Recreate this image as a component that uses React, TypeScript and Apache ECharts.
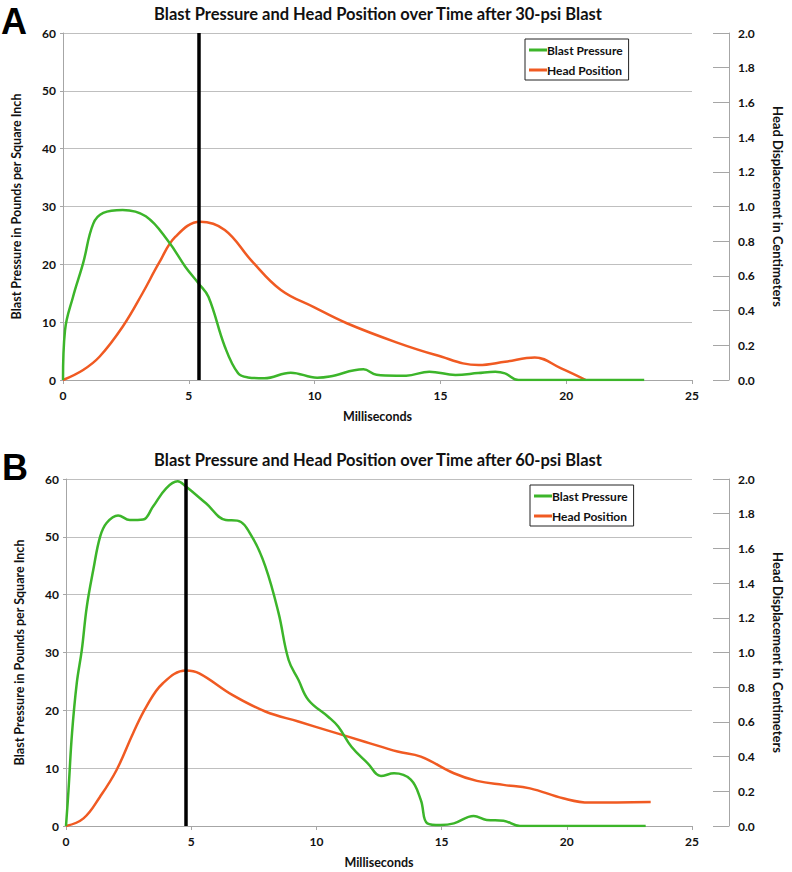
import React, { useEffect, useRef } from "react";
import * as echarts from "echarts";

// ---- Data ----
const titleA = "Blast Pressure and Head Position over Time after 30-psi Blast";
const titleB = "Blast Pressure and Head Position over Time after 60-psi Blast";
const seriesNames = ["Blast Pressure", "Head Position"];
const xTicks = [0, 5, 10, 15, 20, 25];
const markerA = 5.4;
const markerB = 4.77;

// Panel A – blast pressure (psi)
const pressureA_t = [0, 0.08, 0.4, 0.8, 1.2, 1.6, 2.37, 3.29, 4.2, 4.86, 5.39, 5.78, 6.43, 6.96, 7.35, 8.0, 9.05, 10.1, 10.6, 11.94, 12.46, 13.25, 13.64, 14.56, 15.6, 16.5, 17.18, 17.57, 18.1, 23.1];
const pressureA_v = [0, 8.6, 14.4, 20.2, 27.0, 28.9, 29.4, 28.3, 23.9, 19.6, 16.7, 14.4, 5.8, 1.15, 0.45, 0.3, 1.27, 0.4, 0.6, 1.85, 0.9, 0.75, 0.75, 1.44, 0.86, 1.2, 1.44, 1.15, 0, 0];
// Panel A – head position (cm)
const headA_t = [0, 0.8, 1.45, 2.37, 3.16, 3.81, 4.47, 5.45, 6.43, 7.48, 8.66, 9.97, 11.28, 13.25, 14.82, 16.52, 17.57, 18.75, 19.8, 20.78];
const headA_v = [0, 0.058, 0.134, 0.307, 0.5, 0.673, 0.826, 0.912, 0.865, 0.69, 0.519, 0.42, 0.327, 0.217, 0.144, 0.086, 0.105, 0.13, 0.067, 0];

// Panel B – blast pressure (psi)
const pressureB_t = [0, 0.1, 0.24, 0.43, 0.63, 0.83, 1.09, 1.36, 1.62, 2.08, 2.55, 3.08, 3.47, 4.0, 4.46, 4.79, 5.59, 6.38, 6.84, 7.43, 7.96, 8.49, 8.89, 9.28, 9.68, 10.47, 10.87, 11.4, 12.06, 12.58, 13.1, 13.77, 14.17, 14.43, 14.96, 15.49, 16.28, 16.8, 17.47, 18.13, 23.15];
const pressureB_v = [0, 6.2, 16, 24.7, 30.4, 37.9, 44.3, 50, 52.4, 53.7, 52.9, 53, 55.2, 58.4, 59.6, 58.7, 55.8, 52.9, 52.8, 50, 44.9, 36.8, 28.7, 25.3, 21.8, 18.9, 17.2, 13.7, 10.8, 8.65, 9.1, 8.0, 4.5, 0.46, 0.17, 0.46, 1.73, 1.04, 0.92, 0, 0];
// Panel B – head position (cm)
const headB_t = [0, 0.7, 1.36, 2.02, 2.68, 3.21, 3.87, 4.79, 5.32, 6.64, 7.96, 9.28, 10.6, 11.93, 13.24, 14.17, 15.49, 16.41, 17.47, 18.53, 19.85, 20.9, 23.35];
const headB_v = [0, 0.044, 0.169, 0.323, 0.535, 0.688, 0.823, 0.896, 0.88, 0.756, 0.66, 0.602, 0.544, 0.486, 0.429, 0.4, 0.304, 0.26, 0.237, 0.217, 0.16, 0.135, 0.138];

const zip = (t: number[], v: number[]) => t.map((x, i) => [x, v[i]]);

const FONT = "Lato";
const GREEN = "#3cb52a";
const ORANGE = "#f05a22";
const AXIS_GREY = "#a6a6a6";
const GRID_GREY = "#bfbfbf";

export default function App() {
  const ref = useRef<HTMLDivElement>(null);
  useEffect(() => {
    if (!ref.current) return;
    const chart = echarts.init(ref.current, null, { renderer: "svg" });

    const grids = [
      { left: 63, right: 93, top: 33, height: 347 },
      { left: 66, right: 95, top: 479, height: 347 },
    ];

    const xAxis = grids.map((_, i) => ({
      type: "value",
      gridIndex: i,
      min: xTicks[0],
      max: xTicks[xTicks.length - 1],
      interval: 5,
      name: "Milliseconds",
      nameLocation: "middle",
      nameGap: 30,
      nameTextStyle: { fontFamily: FONT, fontWeight: "bold", fontSize: 12.5, color: "#111" },
      axisLine: { show: true, lineStyle: { color: AXIS_GREY, width: 1 } },
      axisTick: { show: true, length: 4, lineStyle: { color: AXIS_GREY } },
      axisLabel: { fontFamily: FONT, fontWeight: "bold", fontSize: 12, color: "#111", margin: 9 },
      splitLine: { show: false },
    }));

    const leftY = (i: number) => ({
      type: "value",
      gridIndex: i,
      position: "left",
      min: 0,
      max: 60,
      interval: 10,
      name: "Blast Pressure in Pounds per Square Inch",
      nameLocation: "middle",
      nameRotate: 90,
      nameGap: 40,
      nameTextStyle: { fontFamily: FONT, fontWeight: "bold", fontSize: 12.5, color: "#111" },
      axisLine: { show: true, lineStyle: { color: AXIS_GREY, width: 1 } },
      axisTick: { show: true, length: 3, lineStyle: { color: AXIS_GREY } },
      axisLabel: { fontFamily: FONT, fontWeight: "bold", fontSize: 12, color: "#111", margin: 7 },
      splitLine: { show: true, lineStyle: { color: GRID_GREY, width: 1 } },
    });
    const rightY = (i: number) => ({
      type: "value",
      gridIndex: i,
      position: "right",
      offset: 37,
      min: 0,
      max: 2,
      interval: 0.2,
      name: "Head Displacement in Centimeters",
      nameLocation: "middle",
      nameRotate: -90,
      nameGap: 42,
      nameTextStyle: { fontFamily: FONT, fontWeight: "bold", fontSize: 13, color: "#111" },
      axisLine: { show: true, lineStyle: { color: AXIS_GREY, width: 1 } },
      axisTick: { show: true, inside: true, length: 16, lineStyle: { color: AXIS_GREY } },
      axisLabel: {
        fontFamily: FONT, fontWeight: "bold", fontSize: 12, color: "#111", margin: 9,
        formatter: (v: number) => v.toFixed(1),
      },
      splitLine: { show: false },
    });

    const markLine = (x: number) => ({
      silent: true,
      symbol: ["none", "none"],
      label: { show: false },
      lineStyle: { color: "#000", width: 3.5, type: "solid" },
      data: [{ xAxis: x }],
    });

    const lineBase = { type: "line", smooth: 0.4, showSymbol: false, symbol: "none" };

    const legendBase = {
      orient: "vertical",
      icon: "rect",
      itemWidth: 18,
      itemHeight: 3,
      itemGap: 8,
      borderColor: "#222",
      borderWidth: 1,
      padding: [5, 6, 4, 4],
      textStyle: { fontFamily: FONT, fontWeight: "bold", fontSize: 12, color: "#111", padding: [0, 0, 0, -5] },
      data: seriesNames,
    };

    chart.setOption({
      animation: false,
      backgroundColor: "#fff",
      title: [
        { text: titleA, left: 373, top: 0, textAlign: "center", textStyle: { fontFamily: FONT, fontWeight: "bold", fontSize: 16.5, color: "#111" } },
        { text: titleB, left: 373, top: 446, textAlign: "center", textStyle: { fontFamily: FONT, fontWeight: "bold", fontSize: 16.5, color: "#111" } },
      ],
      legend: [
        { ...legendBase, left: 525, top: 39 },
        { ...legendBase, left: 530, top: 485 },
      ],
      grid: grids,
      xAxis,
      yAxis: [leftY(0), rightY(0), leftY(1), rightY(1)],
      series: [
        { ...lineBase, name: seriesNames[0], xAxisIndex: 0, yAxisIndex: 0, data: zip(pressureA_t, pressureA_v), lineStyle: { color: GREEN, width: 2.5 }, itemStyle: { color: GREEN }, markLine: markLine(markerA), z: 3 },
        { ...lineBase, name: seriesNames[1], xAxisIndex: 0, yAxisIndex: 1, data: zip(headA_t, headA_v), lineStyle: { color: ORANGE, width: 2.5 }, itemStyle: { color: ORANGE }, z: 2 },
        { ...lineBase, name: seriesNames[0], xAxisIndex: 1, yAxisIndex: 2, data: zip(pressureB_t, pressureB_v), lineStyle: { color: GREEN, width: 2.5 }, itemStyle: { color: GREEN }, markLine: markLine(markerB), z: 3 },
        { ...lineBase, name: seriesNames[1], xAxisIndex: 1, yAxisIndex: 3, data: zip(headB_t, headB_v), lineStyle: { color: ORANGE, width: 2.5 }, itemStyle: { color: ORANGE }, z: 2 },
      ],
      graphic: [
        { type: "text", left: 1, top: 3, style: { text: "A", fontFamily: "Liberation Sans", fontWeight: "bold", fontSize: 36, fill: "#000" } },
        { type: "text", left: 2, top: 449, style: { text: "B", fontFamily: "Liberation Sans", fontWeight: "bold", fontSize: 36, fill: "#000" } },
      ],
    });

    return () => chart.dispose();
  }, []);

  return (
    <div
      ref={ref}
      style={{ position: "fixed", left: 0, top: 0, width: 792, height: 872, background: "#fff" }}
    />
  );
}
